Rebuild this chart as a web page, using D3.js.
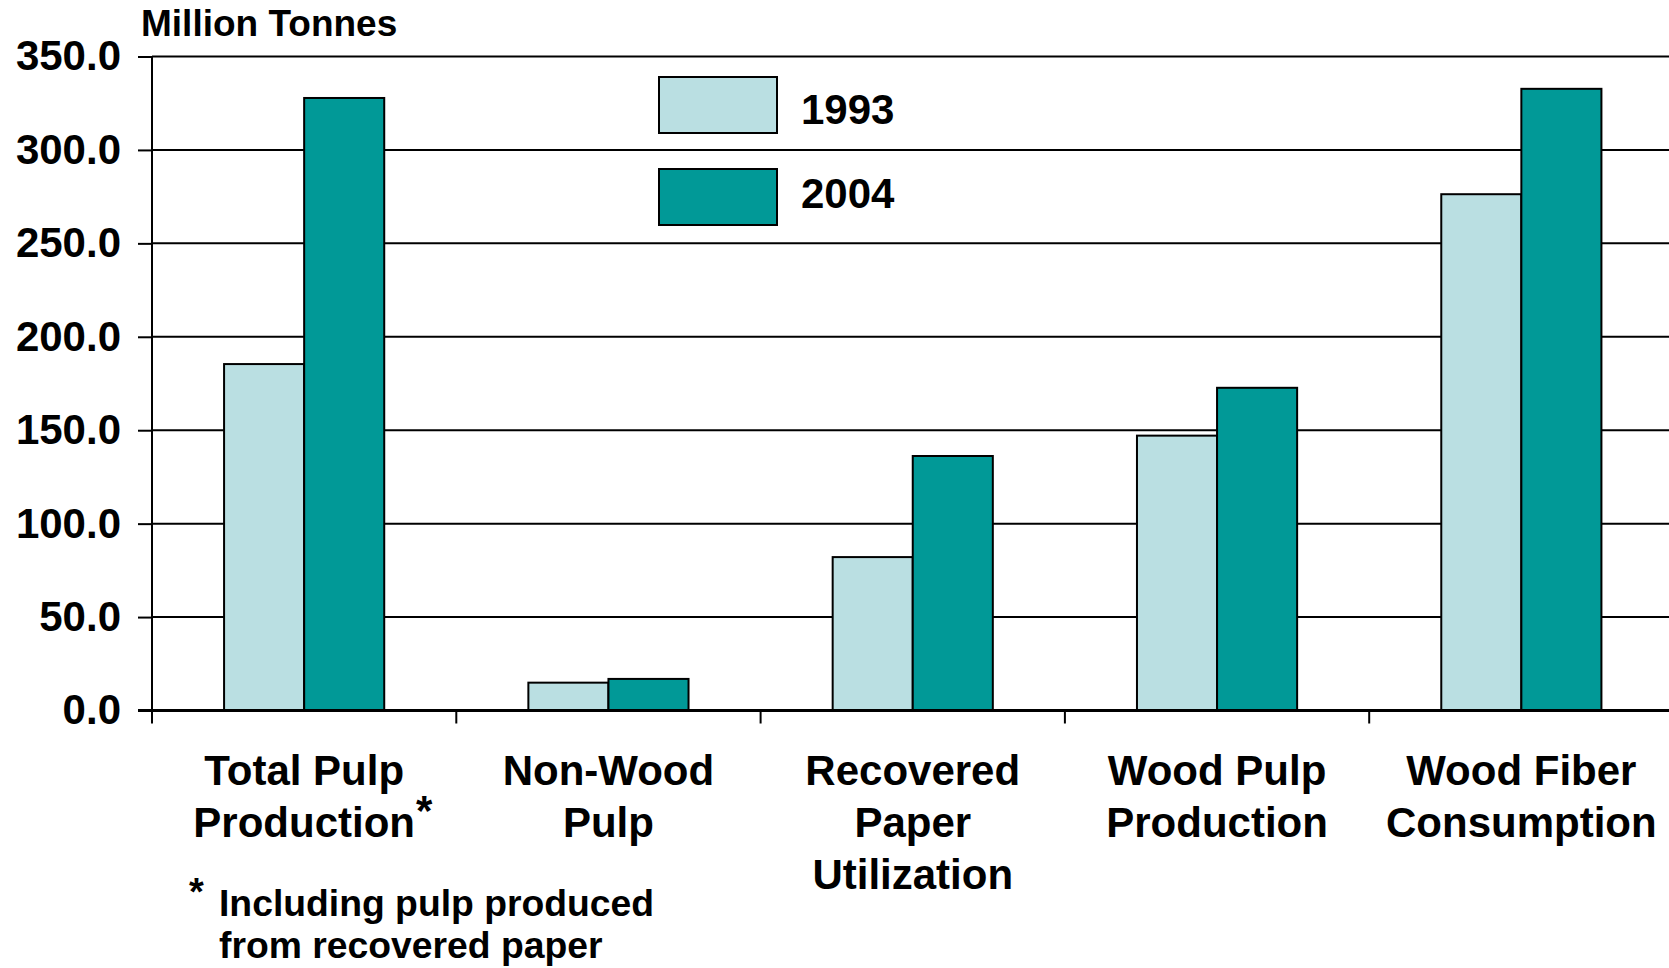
<!DOCTYPE html>
<html>
<head>
<meta charset="utf-8">
<script src="https://cdn.jsdelivr.net/npm/d3@7"></script>
<style>
  html, body { margin: 0; padding: 0; background: #fff; }
  svg { display: block; }
  text { font-family: "Liberation Sans", Arial, Helvetica, sans-serif; font-weight: bold; fill: #000; }
</style>
</head>
<body>
<svg id="chart" width="1669" height="968"></svg>
<script>
// ---- data ----
const categories = ["Total Pulp Production", "Non-Wood Pulp", "Recovered Paper Utilization", "Wood Pulp Production", "Wood Fiber Consumption"];
const categoryLines = [["Total Pulp", "Production"], ["Non-Wood", "Pulp"], ["Recovered", "Paper", "Utilization"], ["Wood Pulp", "Production"], ["Wood Fiber", "Consumption"]];
const seriesNames = ["1993", "2004"];
const values1993 = [185.4, 14.9, 82.1, 147.1, 276.3];
const values2004 = [327.8, 16.9, 136.2, 172.7, 332.7];
const tickValues = [0, 50, 100, 150, 200, 250, 300, 350];
const yTitle = "Million Tonnes";
const footnoteLines = ["Including pulp produced", "from recovered paper"];

// ---- layout ----
const colors = { "1993": "#BADFE2", "2004": "#019997" };
const svg = d3.select("#chart");
const plotLeft = 152, plotRight = 1673.5, plotTop = 56.5, plotBottom = 710.5;

const x = d3.scaleBand().domain(categories).range([plotLeft, plotRight]).paddingInner(0).paddingOuter(0);
const xs = d3.scaleBand().domain(seriesNames).range([0, x.bandwidth()]).paddingInner(0).paddingOuter(0.9);
const y = d3.scaleLinear().domain([0, 350]).range([plotBottom, plotTop]);

const rows = categories.map((c, i) => ({ cat: c, vals: [values1993[i], values2004[i]] }));

// gridlines
svg.append("g").selectAll("line").data(tickValues.filter(t => t > 0)).join("line")
  .attr("x1", plotLeft).attr("x2", 1669)
  .attr("y1", d => y(d)).attr("y2", d => y(d))
  .attr("stroke", "#000").attr("stroke-width", 2);

// y axis
const yAxis = d3.axisLeft(y).tickValues(tickValues).tickFormat(d3.format(".1f")).tickSize(14).tickPadding(17);
const gy = svg.append("g").attr("transform", `translate(${plotLeft},0)`).call(yAxis);
gy.select(".domain").remove();
gy.selectAll(".tick line").attr("stroke", "#000").attr("stroke-width", 2);
gy.selectAll(".tick text").attr("font-size", 42).attr("dy", "0.32em")
  .style("font-family", '"Liberation Sans", Arial, sans-serif').style("font-weight", "bold").attr("fill", "#000");
svg.append("line").attr("x1", plotLeft).attr("x2", plotLeft).attr("y1", plotTop).attr("y2", plotBottom + 13)
  .attr("stroke", "#000").attr("stroke-width", 2);

// bars
const g = svg.append("g");
rows.forEach(r => {
  g.append("g").attr("transform", `translate(${x(r.cat)},0)`)
    .selectAll("rect").data(seriesNames.map((s, j) => ({ s, v: r.vals[j] }))).join("rect")
    .attr("x", d => xs(d.s)).attr("width", xs.bandwidth())
    .attr("y", d => y(d.v)).attr("height", d => y(0) - y(d.v))
    .attr("fill", d => colors[d.s]).attr("stroke", "#000").attr("stroke-width", 2);
});

// x axis
const xAxis = d3.axisBottom(x).tickSize(0).tickFormat("");
const gx = svg.append("g").attr("transform", `translate(0,${plotBottom})`).call(xAxis);
gx.select(".domain").remove();
svg.append("line").attr("x1", plotLeft - 14).attr("x2", 1669).attr("y1", plotBottom).attr("y2", plotBottom)
  .attr("stroke", "#000").attr("stroke-width", 3);
// category separators
svg.append("g").selectAll("line").data(categories.slice(1)).join("line")
  .attr("x1", d => x(d)).attr("x2", d => x(d)).attr("y1", plotBottom).attr("y2", plotBottom + 13)
  .attr("stroke", "#000").attr("stroke-width", 2);

// category labels
const catFont = 42, lineH = 52, firstBase = 785;
categories.forEach((c, i) => {
  const cx = x(c) + x.bandwidth() / 2;
  const t = svg.append("text").attr("text-anchor", "middle").attr("font-size", catFont);
  categoryLines[i].forEach((ln, k) => {
    t.append("tspan").attr("x", cx).attr("y", firstBase + k * lineH).text(ln);
  });
  if (i === 0) {
    const tmp = svg.append("text").attr("font-size", catFont).text(categoryLines[0][1]);
    const w = tmp.node().getComputedTextLength();
    tmp.remove();
    svg.append("text").attr("x", cx + w / 2 + 1).attr("y", firstBase + lineH - 12)
      .attr("font-size", catFont).text("*");
  }
});

// y title
svg.append("text").attr("x", 141).attr("y", 36).attr("font-size", 37).text(yTitle);

// legend
const legY = [77, 169];
const legBase = [124, 208];
seriesNames.forEach((s, i) => {
  svg.append("rect").attr("x", 659).attr("y", legY[i]).attr("width", 118).attr("height", 56)
    .attr("fill", colors[s]).attr("stroke", "#000").attr("stroke-width", 2);
  svg.append("text").attr("x", 801).attr("y", legBase[i]).attr("font-size", 42).text(s);
});

// footnote
svg.append("text").attr("x", 189).attr("y", 905).attr("font-size", 38).text("*");
footnoteLines.forEach((ln, k) => {
  svg.append("text").attr("x", 219).attr("y", 916 + k * 42).attr("font-size", 37.3).text(ln);
});
</script>
</body>
</html>
